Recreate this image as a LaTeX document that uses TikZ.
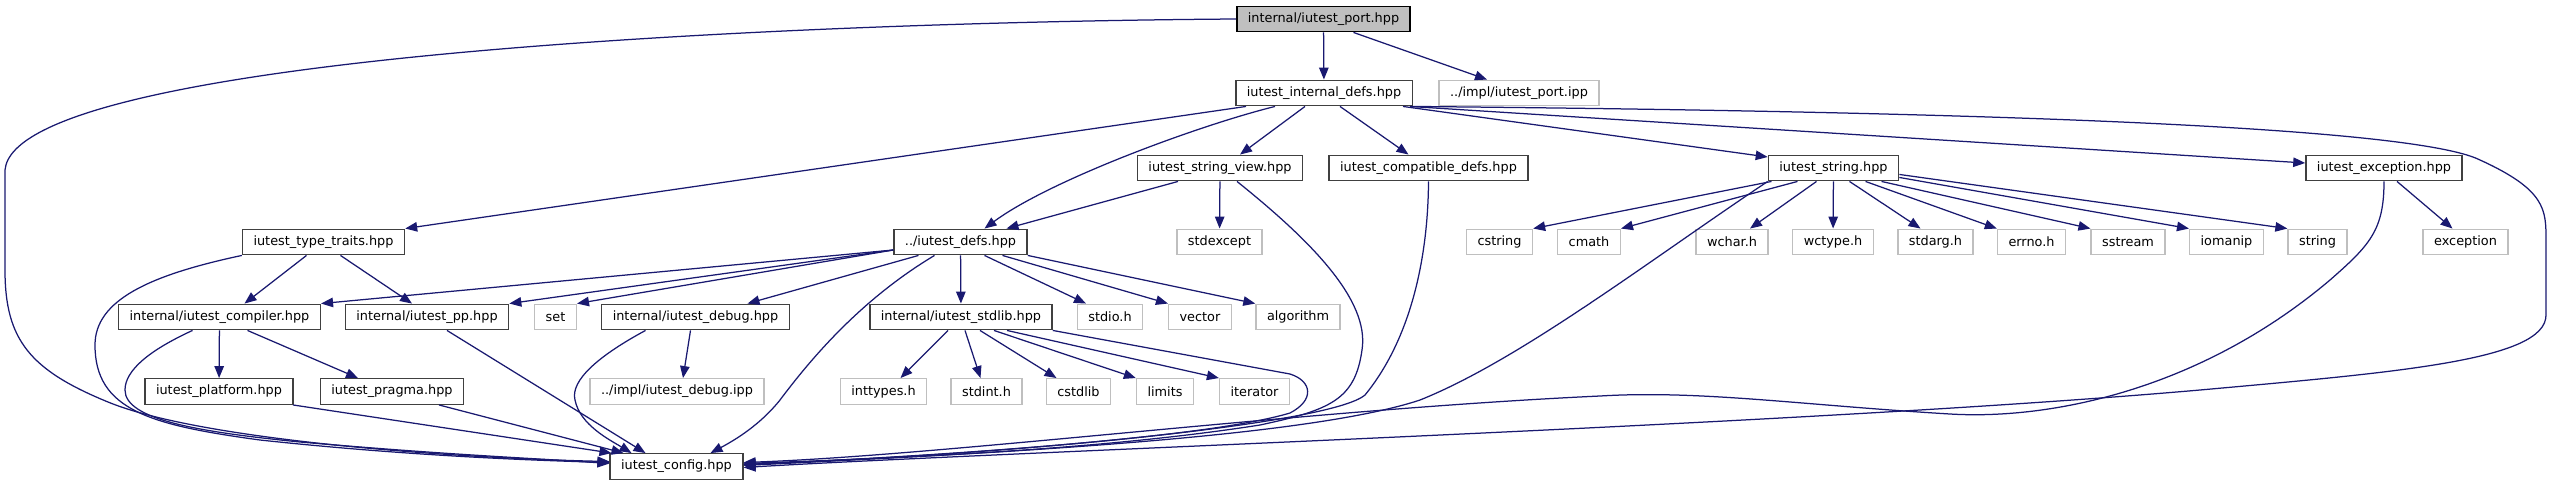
\documentclass[tikz,border=0pt]{standalone}
\usepackage{fontspec}
\setmainfont{DejaVu Sans}
\usetikzlibrary{arrows.meta}
\definecolor{edgeblue}{HTML}{191970}
\definecolor{lightbox}{HTML}{BFBFBF}
\definecolor{boxline}{HTML}{404040}
\begin{document}
\begin{tikzpicture}[x=1pt,y=-1pt,
  dnode/.style={draw=boxline, line width=1.4pt, fill=white, font=\fontsize{12.85}{15}\selectfont,
    minimum height=25.5pt, inner xsep=11pt, inner ysep=0pt},
  xnode/.style={dnode, draw=lightbox},
  rootnode/.style={dnode, draw=black, fill=lightbox},
  edge/.style={draw=edgeblue, line width=1.25pt, -{Triangle[length=12pt,width=9.5pt]}}]
\useasboundingbox (0,0) rectangle (2552,485);
% nodes
\node[rootnode] (port) at (1323.5,19) {internal/iutest\_port.hpp};
\node[dnode] (idefs) at (1324,93) {iutest\_internal\_defs.hpp};
\node[xnode] (portipp) at (1519,93) {../impl/iutest\_port.ipp};
\node[dnode] (sview) at (1220,168) {iutest\_string\_view.hpp};
\node[dnode] (compat) at (1428.5,168) {iutest\_compatible\_defs.hpp};
\node[dnode] (str) at (1833.5,168) {iutest\_string.hpp};
\node[dnode] (exch) at (2384,168) {iutest\_exception.hpp};
\node[dnode] (ttraits) at (323.5,242) {iutest\_type\_traits.hpp};
\node[dnode] (defs) at (960.5,242) {../iutest\_defs.hpp};
\node[xnode] (stdexcept) at (1219.5,242) {stdexcept};
\node[xnode] (cstring) at (1499.5,242) {cstring};
\node[xnode] (cmath) at (1589,242) {cmath};
\node[xnode] (wchar) at (1732,242) {wchar.h};
\node[xnode] (wctype) at (1833,242) {wctype.h};
\node[xnode] (stdarg) at (1935.5,242) {stdarg.h};
\node[xnode] (errno) at (2031.5,242) {errno.h};
\node[xnode] (sstream) at (2128,242) {sstream};
\node[xnode] (iomanip) at (2226.5,242) {iomanip};
\node[xnode] (string) at (2317.5,242) {string};
\node[xnode] (exception) at (2465.5,242) {exception};
\node[dnode] (compiler) at (219.5,317) {internal/iutest\_compiler.hpp};
\node[dnode] (pp) at (427,317) {internal/iutest\_pp.hpp};
\node[xnode] (set) at (555.5,317) {set};
\node[dnode] (debug) at (695.5,317) {internal/iutest\_debug.hpp};
\node[dnode] (stdlib) at (961,317) {internal/iutest\_stdlib.hpp};
\node[xnode] (stdio) at (1110,317) {stdio.h};
\node[xnode] (vector) at (1200,317) {vector};
\node[xnode] (algorithm) at (1298,317) {algorithm};
\node[dnode] (platform) at (219,391.5) {iutest\_platform.hpp};
\node[dnode] (pragma) at (392,391.5) {iutest\_pragma.hpp};
\node[xnode] (debugipp) at (677,391.5) {../impl/iutest\_debug.ipp};
\node[xnode] (inttypes) at (883.5,391.5) {inttypes.h};
\node[xnode] (stdint) at (986.5,391.5) {stdint.h};
\node[xnode] (cstdlib) at (1078.5,391.5) {cstdlib};
\node[xnode] (limits) at (1165,391.5) {limits};
\node[xnode] (iterator) at (1254.5,391.5) {iterator};
\node[dnode] (config) at (676.5,466.5) {iutest\_config.hpp};
% edges from port
\draw[edge] (port) -- (idefs);
\draw[edge] ([xshift=30]port.south) -- ([xshift=-32]portipp.north);
\draw[edge] (port.west) .. controls (800,22) and (15,55) .. (5,170) -- (5,270)
  .. controls (5,340) and (30,370) .. (108,402) .. controls (200,440) and (450,458) .. ([yshift=5]config.west);
% edges from internal defs
\draw[edge] ([xshift=-78]idefs.south) -- (ttraits.north east);
\draw[edge] ([xshift=-49]idefs.south) .. controls (1200,125) and (1050,180) .. ([xshift=24]defs.north);
\draw[edge] ([xshift=-19]idefs.south) -- ([xshift=20]sview.north);
\draw[edge] ([xshift=16]idefs.south) -- ([xshift=-20]compat.north);
\draw[edge] ([xshift=79]idefs.south) -- ([yshift=11]str.west);
\draw[edge] ([xshift=86]idefs.south) -- ([yshift=5]exch.west);
\draw[edge] (idefs.south east) .. controls (1800,110) and (2400,120) .. (2480,160)
  .. controls (2546,190) and (2546,210) .. (2546,240) -- (2546,315)
  .. controls (2546,360) and (2400,372) .. (2200,390) .. controls (1800,425) and (1000,452) .. ([yshift=-1]config.east);
% string view
\draw[edge] ([xshift=-42]sview.south) -- ([xshift=46]defs.north);
\draw[edge] (sview) -- (stdexcept);
\draw[edge] ([xshift=17]sview.south) .. controls (1310,240) and (1370,300) .. (1362,350)
  .. controls (1355,400) and (1330,410) .. (1260,425) .. controls (1100,450) and (900,458) .. ([yshift=3]config.east);
% compatible
\draw[edge] (compat.south) .. controls (1428,260) and (1410,340) .. (1365,395)
  .. controls (1330,425) and (1000,455) .. ([yshift=2]config.east);
% string
\draw[edge] (str.south west) .. controls (1650,260) and (1520,360) .. (1420,400)
  .. controls (1300,440) and (950,455) .. ([yshift=1]config.east);
\draw[edge] ([xshift=-62]str.south) -- (cstring.north east);
\draw[edge] ([xshift=-36]str.south) -- (cmath.north east);
\draw[edge] ([xshift=-17]str.south) -- ([xshift=18]wchar.north);
\draw[edge] (str) -- (wctype);
\draw[edge] ([xshift=16]str.south) -- ([xshift=-15]stdarg.north);
\draw[edge] ([xshift=32]str.south) -- (errno.north west);
\draw[edge] ([xshift=48]str.south) -- (sstream.north west);
\draw[edge] ([yshift=4]str.south east) -- (iomanip.north west);
\draw[edge] ([yshift=7]str.south east) -- (string.north west);
% exception
\draw[edge] ([xshift=13]exch.south) -- ([xshift=-13]exception.north);
\draw[edge] (exch.south) .. controls (2384,230) and (2370,245) .. (2330,280)
  .. controls (2200,390) and (2050,420) .. (1950,414)
  .. controls (1800,405) and (1700,390) .. (1600,396)
  .. controls (1300,410) and (950,455) .. ([yshift=4]config.east);
% type traits
\draw[edge] ([xshift=-17]ttraits.south) -- ([xshift=25]compiler.north);
\draw[edge] ([xshift=17]ttraits.south) -- ([xshift=-15]pp.north);
\draw[edge] (ttraits.south west) .. controls (150,275) and (95,300) .. (95,345)
  .. controls (95,410) and (150,425) .. (260,440) .. controls (400,455) and (520,460) .. ([yshift=4]config.west);
% compiler
\draw[edge] ([xshift=-27]compiler.south) .. controls (150,350) and (125,370) .. (125,390)
  .. controls (125,420) and (200,432) .. (300,442) .. controls (450,455) and (530,458) .. ([yshift=3]config.west);
\draw[edge] (compiler) -- (platform);
\draw[edge] ([xshift=28]compiler.south) -- ([xshift=-34]pragma.north);
% pp, platform, pragma
\draw[edge] ([xshift=20]pp.south) -- ([xshift=-31]config.north);
\draw[edge] ([xshift=74]platform.south) -- ([xshift=2]config.north west);
\draw[edge] ([xshift=47]pragma.south) -- ([xshift=-53]config.north);
% debug
\draw[edge] ([xshift=-5]debug.south) -- ([xshift=6]debugipp.north);
\draw[edge] ([xshift=-50]debug.south) .. controls (600,355) and (570,380) .. (575,400)
  .. controls (580,425) and (610,440) .. ([xshift=-45]config.north);
% defs
\draw[edge] ([yshift=-8]defs.west) -- (compiler.north east);
\draw[edge] ([yshift=-8]defs.west) -- (pp.north east);
\draw[edge] ([yshift=-8]defs.west) -- (set.north east);
\draw[edge] ([xshift=-42]defs.south) -- ([xshift=52]debug.north);
\draw[edge] ([xshift=-26]defs.south) .. controls (860,300) and (810,360) .. (780,400)
  .. controls (760,425) and (735,440) .. ([xshift=34]config.north);
\draw[edge] (defs) -- (stdlib);
\draw[edge] ([xshift=24]defs.south) -- ([xshift=-24]stdio.north);
\draw[edge] ([xshift=42]defs.south) -- (vector.north west);
\draw[edge] (defs.south east) -- (algorithm.north west);
% stdlib
\draw[edge] ([xshift=-13]stdlib.south) -- ([xshift=17]inttypes.north);
\draw[edge] ([xshift=4]stdlib.south) -- ([xshift=-6]stdint.north);
\draw[edge] ([xshift=19]stdlib.south) -- ([xshift=-22]cstdlib.north);
\draw[edge] ([xshift=33]stdlib.south) -- (limits.north west);
\draw[edge] ([xshift=46]stdlib.south) -- (iterator.north west);
\draw[edge] (stdlib.south east) -- (1290,374) .. controls (1312,381) and (1315,400) .. (1290,413)
  .. controls (1200,440) and (900,458) .. ([yshift=2]config.east);
\end{tikzpicture}
\end{document}
